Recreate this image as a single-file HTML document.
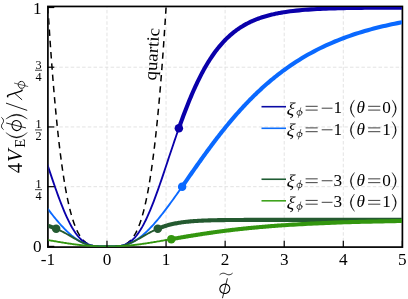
<!DOCTYPE html>
<html><head><meta charset="utf-8"><style>
html,body{margin:0;padding:0;background:#fff;}
svg{display:block;will-change:transform}
text{font-family:"Liberation Serif",serif;fill:#000}
.g{stroke:#dcdcdc;stroke-width:0.8;stroke-dasharray:3.5 2.2}
.t{stroke:#000;stroke-width:1.2}
.r{stroke:#000;stroke-width:0.75}
.tl{font-size:17.2px}
.fr{font-size:12.2px}
.lg{font-size:17.2px}
.yl{font-size:20.5px}
.it{font-style:italic}
</style></head><body>
<svg width="408" height="299" viewBox="0 0 408 299">
<rect width="408" height="299" fill="#fff"/>
<line x1="106.98" y1="247.1" x2="106.98" y2="6.45" class="g"/><line x1="166.06" y1="247.1" x2="166.06" y2="6.45" class="g"/><line x1="225.14" y1="247.1" x2="225.14" y2="6.45" class="g"/><line x1="284.22" y1="247.1" x2="284.22" y2="6.45" class="g"/><line x1="343.30" y1="247.1" x2="343.30" y2="6.45" class="g"/><line x1="47.9" y1="186.68" x2="402.40" y2="186.68" class="g"/><line x1="47.9" y1="126.95" x2="402.40" y2="126.95" class="g"/><line x1="47.9" y1="67.22" x2="402.40" y2="67.22" class="g"/>
<rect x="47.9" y="6.45" width="354.50" height="240.65" fill="none" stroke="#000" stroke-width="1.7"/>
<clipPath id="c"><rect x="48.4" y="7.05" width="353.5" height="239.65"/></clipPath>
<g clip-path="url(#c)">
<path d="M47.90,7.50 L48.20,12.24 L48.49,16.91 L48.79,21.51 L49.08,26.05 L49.38,30.51 L49.67,34.90 L49.97,39.23 L50.26,43.49 L50.56,47.69 L50.85,51.81 L51.15,55.88 L51.44,59.88 L51.74,63.82 L52.04,67.69 L52.33,71.50 L52.63,75.25 L52.92,78.94 L53.22,82.57 L53.51,86.15 L53.81,89.66 L54.10,93.11 L54.40,96.51 L54.69,99.85 L54.99,103.13 L55.28,106.36 L55.58,109.53 L55.88,112.65 L56.17,115.72 L56.47,118.73 L56.76,121.69 L57.06,124.60 L57.35,127.46 L57.65,130.27 L57.94,133.02 L58.24,135.73 L58.53,138.39 L58.83,141.00 L59.13,143.56 L59.42,146.08 L59.72,148.55 L60.01,150.97 L60.31,153.35 L60.60,155.68 L60.90,157.97 L61.19,160.22 L61.49,162.42 L61.78,164.58 L62.08,166.70 L62.37,168.77 L62.67,170.81 L62.97,172.81 L63.26,174.76 L63.56,176.68 L63.85,178.56 L64.15,180.40 L64.44,182.20 L64.74,183.96 L65.03,185.69 L65.33,187.38 L65.62,189.04 L65.92,190.66 L66.21,192.25 L66.51,193.80 L66.81,195.32 L67.10,196.81 L67.40,198.26 L67.69,199.68 L67.99,201.07 L68.28,202.43 L68.58,203.75 L68.87,205.05 L69.17,206.32 L69.46,207.56 L69.76,208.77 L70.06,209.95 L70.35,211.10 L70.65,212.22 L70.94,213.32 L71.24,214.39 L71.53,215.44 L71.83,216.46 L72.12,217.45 L72.42,218.42 L72.71,219.36 L73.01,220.29 L73.30,221.18 L73.60,222.05 L73.90,222.91 L74.19,223.73 L74.49,224.54 L74.78,225.32 L75.08,226.09 L75.37,226.83 L75.67,227.55 L75.96,228.25 L76.26,228.93 L76.55,229.59 L76.85,230.24 L77.14,230.86 L77.44,231.47 L77.74,232.06 L78.03,232.63 L78.33,233.18 L78.62,233.72 L78.92,234.24 L79.21,234.74 L79.51,235.23 L79.80,235.70 L80.10,236.16 L80.39,236.60 L80.69,237.03 L80.98,237.45 L81.28,237.85 L81.58,238.23 L81.87,238.61 L82.17,238.97 L82.46,239.31 L82.76,239.65 L83.05,239.97 L83.35,240.28 L83.64,240.58 L83.94,240.87 L84.23,241.15 L84.53,241.42 L84.82,241.68 L85.12,241.92 L85.42,242.16 L85.71,242.39 L86.01,242.61 L86.30,242.82 L86.60,243.02 L86.89,243.21 L87.19,243.39 L87.48,243.57 L87.78,243.73 L88.07,243.89 L88.37,244.05 L88.67,244.19 L88.96,244.33 L89.26,244.46 L89.55,244.59 L89.85,244.71 L90.14,244.82 L90.44,244.93 L90.73,245.03 L91.03,245.13 L91.32,245.22 L91.62,245.31 L91.91,245.39 L92.21,245.47 L92.51,245.54 L92.80,245.61 L93.10,245.67 L93.39,245.73 L93.69,245.79 L93.98,245.84 L94.28,245.89 L94.57,245.94 L94.87,245.98 L95.16,246.02 L95.46,246.05 L95.75,246.09 L96.05,246.12 L96.35,246.15 L96.64,246.18 L96.94,246.20 L97.23,246.22 L97.53,246.24 L97.82,246.26 L98.12,246.28 L98.41,246.29 L98.71,246.31 L99.00,246.32 L99.30,246.33 L99.59,246.34 L99.89,246.35 L100.19,246.36 L100.48,246.37 L100.78,246.37 L101.07,246.38 L101.37,246.38 L101.66,246.38 L101.96,246.39 L102.25,246.39 L102.55,246.39 L102.84,246.39 L103.14,246.40 L103.44,246.40 L103.73,246.40 L104.03,246.40 L104.32,246.40 L104.62,246.40 L104.91,246.40 L105.21,246.40 L105.50,246.40 L105.80,246.40 L106.09,246.40 L106.39,246.40 L106.68,246.40 L106.98,246.40 L107.28,246.40 L107.57,246.40 L107.87,246.40 L108.16,246.40 L108.46,246.40 L108.75,246.40 L109.05,246.40 L109.34,246.40 L109.64,246.40 L109.93,246.40 L110.23,246.40 L110.52,246.40 L110.82,246.40 L111.12,246.39 L111.41,246.39 L111.71,246.39 L112.00,246.39 L112.30,246.38 L112.59,246.38 L112.89,246.38 L113.18,246.37 L113.48,246.37 L113.77,246.36 L114.07,246.35 L114.37,246.34 L114.66,246.33 L114.96,246.32 L115.25,246.31 L115.55,246.29 L115.84,246.28 L116.14,246.26 L116.43,246.24 L116.73,246.22 L117.02,246.20 L117.32,246.18 L117.61,246.15 L117.91,246.12 L118.21,246.09 L118.50,246.05 L118.80,246.02 L119.09,245.98 L119.39,245.94 L119.68,245.89 L119.98,245.84 L120.27,245.79 L120.57,245.73 L120.86,245.67 L121.16,245.61 L121.45,245.54 L121.75,245.47 L122.05,245.39 L122.34,245.31 L122.64,245.22 L122.93,245.13 L123.23,245.03 L123.52,244.93 L123.82,244.82 L124.11,244.71 L124.41,244.59 L124.70,244.46 L125.00,244.33 L125.29,244.19 L125.59,244.05 L125.89,243.89 L126.18,243.73 L126.48,243.57 L126.77,243.39 L127.07,243.21 L127.36,243.02 L127.66,242.82 L127.95,242.61 L128.25,242.39 L128.54,242.16 L128.84,241.92 L129.13,241.68 L129.43,241.42 L129.73,241.15 L130.02,240.87 L130.32,240.58 L130.61,240.28 L130.91,239.97 L131.20,239.65 L131.50,239.31 L131.79,238.97 L132.09,238.61 L132.38,238.23 L132.68,237.85 L132.98,237.45 L133.27,237.03 L133.57,236.60 L133.86,236.16 L134.16,235.70 L134.45,235.23 L134.75,234.74 L135.04,234.24 L135.34,233.72 L135.63,233.18 L135.93,232.63 L136.22,232.06 L136.52,231.47 L136.82,230.86 L137.11,230.24 L137.41,229.59 L137.70,228.93 L138.00,228.25 L138.29,227.55 L138.59,226.83 L138.88,226.09 L139.18,225.32 L139.47,224.54 L139.77,223.73 L140.06,222.91 L140.36,222.05 L140.66,221.18 L140.95,220.29 L141.25,219.36 L141.54,218.42 L141.84,217.45 L142.13,216.46 L142.43,215.44 L142.72,214.39 L143.02,213.32 L143.31,212.22 L143.61,211.10 L143.91,209.95 L144.20,208.77 L144.50,207.56 L144.79,206.32 L145.09,205.05 L145.38,203.75 L145.68,202.43 L145.97,201.07 L146.27,199.68 L146.56,198.26 L146.86,196.81 L147.15,195.32 L147.45,193.80 L147.75,192.25 L148.04,190.66 L148.34,189.04 L148.63,187.38 L148.93,185.69 L149.22,183.96 L149.52,182.20 L149.81,180.40 L150.11,178.56 L150.40,176.68 L150.70,174.76 L150.99,172.81 L151.29,170.81 L151.59,168.77 L151.88,166.70 L152.18,164.58 L152.47,162.42 L152.77,160.22 L153.06,157.97 L153.36,155.68 L153.65,153.35 L153.95,150.97 L154.24,148.55 L154.54,146.08 L154.83,143.56 L155.13,141.00 L155.43,138.39 L155.72,135.73 L156.02,133.02 L156.31,130.27 L156.61,127.46 L156.90,124.60 L157.20,121.69 L157.49,118.73 L157.79,115.72 L158.08,112.65 L158.38,109.53 L158.67,106.36 L158.97,103.13 L159.27,99.85 L159.56,96.51 L159.86,93.11 L160.15,89.66 L160.45,86.15 L160.74,82.57 L161.04,78.94 L161.33,75.25 L161.63,71.50 L161.92,67.69 L162.22,63.82 L162.52,59.88 L162.81,55.88 L163.11,51.81 L163.40,47.69 L163.70,43.49 L163.99,39.23 L164.29,34.90 L164.58,30.51 L164.88,26.05 L165.17,21.51 L165.47,16.91 L165.76,12.24 L166.06,7.50" stroke="#000" stroke-width="1.5" fill="none" stroke-dasharray="6.4 4.89" stroke-dashoffset="0.5"/>
<path d="M46.72,162.48 L47.82,165.79 L48.92,169.09 L50.02,172.37 L51.12,175.64 L52.22,178.89 L53.33,182.11 L54.43,185.29 L55.53,188.44 L56.63,191.54 L57.73,194.59 L58.83,197.59 L59.93,200.52 L61.03,203.39 L62.14,206.19 L63.24,208.91 L64.34,211.55 L65.44,214.11 L66.54,216.57 L67.64,218.94 L68.74,221.22 L69.84,223.39 L70.95,225.47 L72.05,227.43 L73.15,229.29 L74.25,231.04 L75.35,232.69 L76.45,234.22 L77.55,235.65 L78.65,236.96 L79.76,238.18 L80.86,239.28 L81.96,240.29 L83.06,241.20 L84.16,242.01 L85.26,242.74 L86.36,243.37 L87.46,243.93 L88.56,244.41 L89.67,244.83 L90.77,245.17 L91.87,245.46 L92.97,245.70 L94.07,245.89 L95.17,246.04 L96.27,246.15 L97.37,246.24 L98.48,246.30 L99.58,246.34 L100.68,246.37 L101.78,246.39 L102.88,246.39 L103.98,246.40 L105.08,246.40 L106.18,246.40 L107.29,246.40 L108.39,246.40 L109.49,246.40 L110.59,246.40 L111.69,246.39 L112.79,246.38 L113.89,246.36 L114.99,246.32 L116.10,246.27 L117.20,246.19 L118.30,246.09 L119.40,245.96 L120.50,245.79 L121.60,245.57 L122.70,245.31 L123.80,244.99 L124.91,244.60 L126.01,244.15 L127.11,243.63 L128.21,243.03 L129.31,242.35 L130.41,241.57 L131.51,240.71 L132.61,239.74 L133.72,238.68 L134.82,237.52 L135.92,236.25 L137.02,234.87 L138.12,233.38 L139.22,231.79 L140.32,230.08 L141.42,228.27 L142.53,226.35 L143.63,224.33 L144.73,222.20 L145.83,219.97 L146.93,217.64 L148.03,215.21 L149.13,212.70 L150.23,210.10 L151.33,207.41 L152.44,204.65 L153.54,201.81 L154.64,198.90 L155.74,195.93 L156.84,192.90 L157.94,189.83 L159.04,186.70 L160.14,183.53 L161.25,180.33 L162.35,177.09 L163.45,173.83 L164.55,170.55 L165.65,167.25 L166.75,163.95 L167.85,160.64 L168.95,157.33 L170.06,154.02 L171.16,150.72 L172.26,147.44 L173.36,144.17 L174.46,140.92 L175.56,137.70 L176.66,134.50 L177.76,131.33 L178.87,128.20" stroke="#0a00aa" stroke-width="1.85" fill="none"/>
<path d="M46.72,207.43 L47.85,208.94 L48.98,210.42 L50.10,211.90 L51.23,213.35 L52.36,214.79 L53.49,216.21 L54.62,217.61 L55.75,218.98 L56.87,220.34 L58.00,221.67 L59.13,222.98 L60.26,224.26 L61.39,225.51 L62.52,226.74 L63.64,227.94 L64.77,229.11 L65.90,230.24 L67.03,231.34 L68.16,232.41 L69.29,233.45 L70.42,234.45 L71.54,235.41 L72.67,236.33 L73.80,237.21 L74.93,238.06 L76.06,238.86 L77.19,239.62 L78.31,240.34 L79.44,241.01 L80.57,241.65 L81.70,242.24 L82.83,242.78 L83.96,243.28 L85.09,243.74 L86.21,244.16 L87.34,244.53 L88.47,244.87 L89.60,245.16 L90.73,245.42 L91.86,245.63 L92.98,245.82 L94.11,245.97 L95.24,246.09 L96.37,246.19 L97.50,246.26 L98.63,246.31 L99.75,246.35 L100.88,246.37 L102.01,246.39 L103.14,246.40 L104.27,246.40 L105.40,246.40 L106.53,246.40 L107.65,246.40 L108.78,246.40 L109.91,246.40 L111.04,246.39 L112.17,246.39 L113.30,246.37 L114.42,246.34 L115.55,246.30 L116.68,246.25 L117.81,246.17 L118.94,246.07 L120.07,245.94 L121.20,245.78 L122.32,245.59 L123.45,245.37 L124.58,245.11 L125.71,244.81 L126.84,244.46 L127.97,244.08 L129.09,243.66 L130.22,243.19 L131.35,242.68 L132.48,242.13 L133.61,241.53 L134.74,240.89 L135.86,240.20 L136.99,239.47 L138.12,238.71 L139.25,237.89 L140.38,237.04 L141.51,236.15 L142.64,235.22 L143.76,234.25 L144.89,233.25 L146.02,232.21 L147.15,231.13 L148.28,230.02 L149.41,228.88 L150.53,227.71 L151.66,226.50 L152.79,225.27 L153.92,224.01 L155.05,222.73 L156.18,221.41 L157.31,220.08 L158.43,218.72 L159.56,217.34 L160.69,215.93 L161.82,214.51 L162.95,213.07 L164.08,211.61 L165.20,210.14 L166.33,208.65 L167.46,207.14 L168.59,205.62 L169.72,204.09 L170.85,202.55 L171.97,201.00 L173.10,199.43 L174.23,197.86 L175.36,196.28 L176.49,194.69 L177.62,193.10 L178.75,191.50 L179.87,189.90 L181.00,188.29 L182.13,186.68" stroke="#0a69ff" stroke-width="1.85" fill="none"/>
<path d="M56.19,228.74 L57.04,229.10 L57.88,229.48 L58.73,229.86 L59.58,230.25 L60.42,230.66 L61.27,231.07 L62.12,231.50 L62.96,231.93 L63.81,232.37 L64.65,232.82 L65.50,233.28 L66.35,233.74 L67.19,234.22 L68.04,234.69 L68.89,235.17 L69.73,235.66 L70.58,236.15 L71.43,236.63 L72.27,237.12 L73.12,237.61 L73.97,238.10 L74.81,238.58 L75.66,239.06 L76.51,239.54 L77.35,240.00 L78.20,240.46 L79.05,240.91 L79.89,241.34 L80.74,241.76 L81.58,242.17 L82.43,242.56 L83.28,242.93 L84.12,243.29 L84.97,243.63 L85.82,243.95 L86.66,244.24 L87.51,244.52 L88.36,244.77 L89.20,245.01 L90.05,245.22 L90.90,245.41 L91.74,245.58 L92.59,245.73 L93.44,245.86 L94.28,245.97 L95.13,246.07 L95.98,246.15 L96.82,246.21 L97.67,246.27 L98.51,246.31 L99.36,246.34 L100.21,246.36 L101.05,246.38 L101.90,246.39 L102.75,246.39 L103.59,246.40 L104.44,246.40 L105.29,246.40 L106.13,246.40 L106.98,246.40 L107.83,246.40 L108.67,246.40 L109.52,246.40 L110.37,246.40 L111.21,246.39 L112.06,246.39 L112.91,246.38 L113.75,246.36 L114.60,246.34 L115.45,246.31 L116.29,246.27 L117.14,246.21 L117.98,246.15 L118.83,246.07 L119.68,245.97 L120.52,245.86 L121.37,245.73 L122.22,245.58 L123.06,245.41 L123.91,245.22 L124.76,245.01 L125.60,244.77 L126.45,244.52 L127.30,244.24 L128.14,243.95 L128.99,243.63 L129.84,243.29 L130.68,242.93 L131.53,242.56 L132.38,242.17 L133.22,241.76 L134.07,241.34 L134.91,240.91 L135.76,240.46 L136.61,240.00 L137.45,239.54 L138.30,239.06 L139.15,238.58 L139.99,238.10 L140.84,237.61 L141.69,237.12 L142.53,236.63 L143.38,236.15 L144.23,235.66 L145.07,235.17 L145.92,234.69 L146.77,234.22 L147.61,233.74 L148.46,233.28 L149.31,232.82 L150.15,232.37 L151.00,231.93 L151.84,231.50 L152.69,231.07 L153.54,230.66 L154.38,230.25 L155.23,229.86 L156.08,229.48 L156.92,229.10 L157.77,228.74" stroke="#245a30" stroke-width="1.85" fill="none"/>
<path d="M46.72,239.84 L47.76,240.02 L48.80,240.20 L49.83,240.38 L50.87,240.56 L51.91,240.74 L52.95,240.92 L53.99,241.10 L55.03,241.28 L56.06,241.45 L57.10,241.63 L58.14,241.80 L59.18,241.98 L60.22,242.15 L61.26,242.32 L62.30,242.49 L63.33,242.65 L64.37,242.82 L65.41,242.98 L66.45,243.15 L67.49,243.31 L68.53,243.46 L69.57,243.62 L70.60,243.77 L71.64,243.92 L72.68,244.07 L73.72,244.21 L74.76,244.36 L75.80,244.49 L76.83,244.63 L77.87,244.76 L78.91,244.88 L79.95,245.01 L80.99,245.13 L82.03,245.24 L83.07,245.35 L84.10,245.45 L85.14,245.55 L86.18,245.65 L87.22,245.74 L88.26,245.82 L89.30,245.90 L90.34,245.98 L91.37,246.04 L92.41,246.10 L93.45,246.16 L94.49,246.21 L95.53,246.25 L96.57,246.29 L97.60,246.32 L98.64,246.34 L99.68,246.36 L100.72,246.38 L101.76,246.39 L102.80,246.39 L103.84,246.40 L104.87,246.40 L105.91,246.40 L106.95,246.40 L107.99,246.40 L109.03,246.40 L110.07,246.40 L111.11,246.40 L112.14,246.39 L113.18,246.38 L114.22,246.37 L115.26,246.35 L116.30,246.32 L117.34,246.29 L118.37,246.25 L119.41,246.21 L120.45,246.16 L121.49,246.11 L122.53,246.05 L123.57,245.98 L124.61,245.91 L125.64,245.83 L126.68,245.74 L127.72,245.66 L128.76,245.56 L129.80,245.46 L130.84,245.36 L131.87,245.25 L132.91,245.13 L133.95,245.01 L134.99,244.89 L136.03,244.77 L137.07,244.63 L138.11,244.50 L139.14,244.36 L140.18,244.22 L141.22,244.08 L142.26,243.93 L143.30,243.78 L144.34,243.63 L145.38,243.47 L146.41,243.32 L147.45,243.16 L148.49,242.99 L149.53,242.83 L150.57,242.66 L151.61,242.50 L152.64,242.33 L153.68,242.16 L154.72,241.98 L155.76,241.81 L156.80,241.64 L157.84,241.46 L158.88,241.29 L159.91,241.11 L160.95,240.93 L161.99,240.75 L163.03,240.57 L164.07,240.39 L165.11,240.21 L166.15,240.03 L167.18,239.85 L168.22,239.67 L169.26,239.49 L170.30,239.31 L171.34,239.13" stroke="#33960f" stroke-width="1.85" fill="none"/>
<path d="M178.87,128.20 L179.74,125.72 L180.62,123.28 L181.50,120.85 L182.38,118.45 L183.26,116.08 L184.13,113.74 L185.01,111.43 L185.89,109.14 L186.77,106.89 L187.65,104.67 L188.52,102.48 L189.40,100.32 L190.28,98.20 L191.16,96.11 L192.03,94.05 L192.91,92.03 L193.79,90.03 L194.67,88.08 L195.55,86.16 L196.42,84.27 L197.30,82.41 L198.18,80.60 L199.06,78.81 L199.94,77.06 L200.81,75.34 L201.69,73.66 L202.57,72.01 L203.45,70.39 L204.33,68.81 L205.20,67.26 L206.08,65.74 L206.96,64.26 L207.84,62.80 L208.72,61.38 L209.59,59.99 L210.47,58.63 L211.35,57.30 L212.23,56.00 L213.11,54.73 L213.98,53.49 L214.86,52.28 L215.74,51.09 L216.62,49.94 L217.50,48.81 L218.37,47.71 L219.25,46.63 L220.13,45.58 L221.01,44.56 L221.89,43.56 L222.76,42.58 L223.64,41.63 L224.52,40.71 L225.40,39.80 L226.28,38.92 L227.15,38.06 L228.03,37.23 L228.91,36.41 L229.79,35.62 L230.66,34.84 L231.54,34.09 L232.42,33.35 L233.30,32.64 L234.18,31.94 L235.05,31.26 L235.93,30.60 L236.81,29.96 L237.69,29.33 L238.57,28.72 L239.44,28.12 L240.32,27.55 L241.20,26.98 L242.08,26.44 L242.96,25.90 L243.83,25.39 L244.71,24.88 L245.59,24.39 L246.47,23.91 L247.35,23.45 L248.22,23.00 L249.10,22.56 L249.98,22.13 L250.86,21.72 L251.74,21.31 L252.61,20.92 L253.49,20.54 L254.37,20.17 L255.25,19.80 L256.13,19.45 L257.00,19.11 L257.88,18.78 L258.76,18.46 L259.64,18.14 L260.52,17.84 L261.39,17.54 L262.27,17.25 L263.15,16.97 L264.03,16.70 L264.91,16.44 L265.78,16.18 L266.66,15.93 L267.54,15.69 L268.42,15.45 L269.29,15.22 L270.17,15.00 L271.05,14.79 L271.93,14.58 L272.81,14.37 L273.68,14.17 L274.56,13.98 L275.44,13.79 L276.32,13.61 L277.20,13.43 L278.07,13.26 L278.95,13.10 L279.83,12.93 L280.71,12.78 L281.59,12.62 L282.46,12.48 L283.34,12.33 L284.22,12.19 L287.20,11.74 L290.19,11.34 L293.17,10.97 L296.15,10.64 L299.14,10.34 L302.12,10.07 L305.10,9.82 L308.09,9.60 L311.07,9.40 L314.06,9.22 L317.04,9.05 L320.02,8.91 L323.01,8.77 L325.99,8.65 L328.97,8.54 L331.96,8.44 L334.94,8.35 L337.92,8.27 L340.91,8.19 L343.89,8.13 L346.87,8.07 L349.86,8.01 L352.84,7.96 L355.82,7.92 L358.81,7.88 L361.79,7.84 L364.78,7.81 L367.76,7.78 L370.74,7.75 L373.73,7.73 L376.71,7.71 L379.69,7.69 L382.68,7.67 L385.66,7.65 L388.64,7.64 L391.63,7.62 L394.61,7.61 L397.59,7.60 L400.58,7.59 L403.56,7.58" stroke="#0a00aa" stroke-width="4.1" fill="none"/>
<circle cx="178.87" cy="128.20" r="4.25" fill="#0a00aa"/>
<path d="M182.13,186.68 L182.98,185.46 L183.83,184.24 L184.68,183.02 L185.53,181.80 L186.38,180.58 L187.24,179.36 L188.09,178.14 L188.94,176.92 L189.79,175.70 L190.64,174.48 L191.49,173.26 L192.34,172.05 L193.19,170.83 L194.04,169.62 L194.89,168.41 L195.74,167.20 L196.59,165.99 L197.44,164.78 L198.29,163.58 L199.15,162.38 L200.00,161.19 L200.85,159.99 L201.70,158.80 L202.55,157.62 L203.40,156.43 L204.25,155.26 L205.10,154.08 L205.95,152.91 L206.80,151.74 L207.65,150.58 L208.50,149.42 L209.35,148.27 L210.21,147.12 L211.06,145.97 L211.91,144.83 L212.76,143.70 L213.61,142.57 L214.46,141.44 L215.31,140.32 L216.16,139.21 L217.01,138.10 L217.86,137.00 L218.71,135.90 L219.56,134.80 L220.41,133.72 L221.26,132.64 L222.12,131.56 L222.97,130.49 L223.82,129.43 L224.67,128.37 L225.52,127.32 L226.37,126.27 L227.22,125.23 L228.07,124.20 L228.92,123.17 L229.77,122.15 L230.62,121.14 L231.47,120.13 L232.32,119.12 L233.18,118.13 L234.03,117.14 L234.88,116.16 L235.73,115.18 L236.58,114.21 L237.43,113.24 L238.28,112.29 L239.13,111.33 L239.98,110.39 L240.83,109.45 L241.68,108.52 L242.53,107.59 L243.38,106.67 L244.23,105.76 L245.09,104.86 L245.94,103.96 L246.79,103.06 L247.64,102.18 L248.49,101.30 L249.34,100.42 L250.19,99.56 L251.04,98.70 L251.89,97.84 L252.74,96.99 L253.59,96.15 L254.44,95.32 L255.29,94.49 L256.15,93.67 L257.00,92.85 L257.85,92.04 L258.70,91.24 L259.55,90.44 L260.40,89.65 L261.25,88.87 L262.10,88.09 L262.95,87.32 L263.80,86.55 L264.65,85.79 L265.50,85.04 L266.35,84.29 L267.21,83.55 L268.06,82.82 L268.91,82.09 L269.76,81.37 L270.61,80.65 L271.46,79.94 L272.31,79.23 L273.16,78.54 L274.01,77.84 L274.86,77.16 L275.71,76.48 L276.56,75.80 L277.41,75.13 L278.26,74.47 L279.12,73.81 L279.97,73.16 L280.82,72.51 L281.67,71.87 L282.52,71.23 L283.37,70.60 L284.22,69.98 L287.20,67.83 L290.19,65.75 L293.17,63.74 L296.15,61.79 L299.14,59.90 L302.12,58.07 L305.10,56.30 L308.09,54.59 L311.07,52.93 L314.06,51.33 L317.04,49.78 L320.02,48.28 L323.01,46.83 L325.99,45.43 L328.97,44.07 L331.96,42.77 L334.94,41.50 L337.92,40.28 L340.91,39.11 L343.89,37.97 L346.87,36.87 L349.86,35.81 L352.84,34.79 L355.82,33.80 L358.81,32.84 L361.79,31.92 L364.78,31.04 L367.76,30.18 L370.74,29.35 L373.73,28.56 L376.71,27.79 L379.69,27.05 L382.68,26.33 L385.66,25.64 L388.64,24.98 L391.63,24.34 L394.61,23.72 L397.59,23.12 L400.58,22.55 L403.56,22.00" stroke="#0a69ff" stroke-width="4.1" fill="none"/>
<circle cx="182.13" cy="186.68" r="4.25" fill="#0a69ff"/>
<path d="M157.77,228.74 L158.82,228.30 L159.88,227.88 L160.93,227.48 L161.99,227.09 L163.04,226.72 L164.09,226.36 L165.15,226.02 L166.20,225.69 L167.25,225.38 L168.31,225.09 L169.36,224.81 L170.42,224.54 L171.47,224.28 L172.52,224.04 L173.58,223.81 L174.63,223.59 L175.68,223.38 L176.74,223.18 L177.79,223.00 L178.85,222.82 L179.90,222.65 L180.95,222.49 L182.01,222.34 L183.06,222.20 L184.11,222.06 L185.17,221.94 L186.22,221.82 L187.28,221.70 L188.33,221.60 L189.38,221.50 L190.44,221.40 L191.49,221.31 L192.54,221.23 L193.60,221.15 L194.65,221.07 L195.71,221.00 L196.76,220.93 L197.81,220.87 L198.87,220.81 L199.92,220.75 L200.97,220.70 L202.03,220.65 L203.08,220.60 L204.14,220.56 L205.19,220.52 L206.24,220.48 L207.30,220.44 L208.35,220.41 L209.40,220.37 L210.46,220.34 L211.51,220.31 L212.57,220.29 L213.62,220.26 L214.67,220.24 L215.73,220.21 L216.78,220.19 L217.83,220.17 L218.89,220.15 L219.94,220.14 L221.00,220.12 L222.05,220.10 L223.10,220.09 L224.16,220.08 L225.21,220.06 L226.26,220.05 L227.32,220.04 L228.37,220.03 L229.43,220.02 L230.48,220.01 L231.53,220.00 L232.59,219.99 L233.64,219.98 L234.69,219.97 L235.75,219.97 L236.80,219.96 L237.86,219.95 L238.91,219.95 L239.96,219.94 L241.02,219.94 L242.07,219.93 L243.12,219.93 L244.18,219.92 L245.23,219.92 L246.29,219.92 L247.34,219.91 L248.39,219.91 L249.45,219.91 L250.50,219.90 L251.55,219.90 L252.61,219.90 L253.66,219.89 L254.72,219.89 L255.77,219.89 L256.82,219.89 L257.88,219.89 L258.93,219.88 L259.98,219.88 L261.04,219.88 L262.09,219.88 L263.15,219.88 L264.20,219.88 L265.25,219.88 L266.31,219.87 L267.36,219.87 L268.41,219.87 L269.47,219.87 L270.52,219.87 L271.58,219.87 L272.63,219.87 L273.68,219.87 L274.74,219.87 L275.79,219.87 L276.84,219.87 L277.90,219.86 L278.95,219.86 L280.01,219.86 L281.06,219.86 L282.11,219.86 L283.17,219.86 L284.22,219.86 L287.20,219.86 L290.19,219.86 L293.17,219.86 L296.15,219.86 L299.14,219.86 L302.12,219.86 L305.10,219.86 L308.09,219.86 L311.07,219.86 L314.06,219.86 L317.04,219.86 L320.02,219.86 L323.01,219.86 L325.99,219.86 L328.97,219.86 L331.96,219.86 L334.94,219.86 L337.92,219.86 L340.91,219.86 L343.89,219.86 L346.87,219.86 L349.86,219.86 L352.84,219.86 L355.82,219.86 L358.81,219.86 L361.79,219.86 L364.78,219.86 L367.76,219.86 L370.74,219.86 L373.73,219.86 L376.71,219.86 L379.69,219.86 L382.68,219.86 L385.66,219.86 L388.64,219.86 L391.63,219.86 L394.61,219.86 L397.59,219.86 L400.58,219.86 L403.56,219.86" stroke="#245a30" stroke-width="4.1" fill="none"/>
<circle cx="157.77" cy="228.74" r="4.25" fill="#245a30"/>
<path d="M46.72,225.39 L47.19,225.53 L47.67,225.67 L48.14,225.81 L48.61,225.96 L49.09,226.11 L49.56,226.26 L50.03,226.42 L50.51,226.58 L50.98,226.74 L51.45,226.90 L51.93,227.07 L52.40,227.24 L52.87,227.42 L53.35,227.60 L53.82,227.78 L54.30,227.97 L54.77,228.15 L55.24,228.35 L55.72,228.54 L56.19,228.74" stroke="#245a30" stroke-width="4.1" fill="none"/>
<circle cx="56.19" cy="228.74" r="4.25" fill="#245a30"/>
<path d="M171.34,239.13 L172.28,238.97 L173.22,238.80 L174.16,238.64 L175.10,238.48 L176.04,238.31 L176.98,238.15 L177.92,237.99 L178.86,237.83 L179.80,237.66 L180.74,237.50 L181.69,237.34 L182.63,237.18 L183.57,237.02 L184.51,236.87 L185.45,236.71 L186.39,236.55 L187.33,236.39 L188.27,236.24 L189.21,236.08 L190.15,235.93 L191.09,235.77 L192.03,235.62 L192.97,235.47 L193.91,235.31 L194.85,235.16 L195.80,235.01 L196.74,234.86 L197.68,234.71 L198.62,234.57 L199.56,234.42 L200.50,234.27 L201.44,234.13 L202.38,233.99 L203.32,233.84 L204.26,233.70 L205.20,233.56 L206.14,233.42 L207.08,233.28 L208.02,233.14 L208.97,233.00 L209.91,232.87 L210.85,232.73 L211.79,232.60 L212.73,232.47 L213.67,232.33 L214.61,232.20 L215.55,232.07 L216.49,231.94 L217.43,231.81 L218.37,231.69 L219.31,231.56 L220.25,231.44 L221.19,231.31 L222.13,231.19 L223.08,231.07 L224.02,230.95 L224.96,230.83 L225.90,230.71 L226.84,230.59 L227.78,230.47 L228.72,230.36 L229.66,230.24 L230.60,230.13 L231.54,230.01 L232.48,229.90 L233.42,229.79 L234.36,229.68 L235.30,229.57 L236.25,229.47 L237.19,229.36 L238.13,229.25 L239.07,229.15 L240.01,229.04 L240.95,228.94 L241.89,228.84 L242.83,228.74 L243.77,228.64 L244.71,228.54 L245.65,228.44 L246.59,228.34 L247.53,228.25 L248.47,228.15 L249.41,228.06 L250.36,227.97 L251.30,227.87 L252.24,227.78 L253.18,227.69 L254.12,227.60 L255.06,227.51 L256.00,227.43 L256.94,227.34 L257.88,227.25 L258.82,227.17 L259.76,227.08 L260.70,227.00 L261.64,226.92 L262.58,226.84 L263.52,226.76 L264.47,226.68 L265.41,226.60 L266.35,226.52 L267.29,226.44 L268.23,226.36 L269.17,226.29 L270.11,226.21 L271.05,226.14 L271.99,226.06 L272.93,225.99 L273.87,225.92 L274.81,225.85 L275.75,225.78 L276.69,225.71 L277.64,225.64 L278.58,225.57 L279.52,225.50 L280.46,225.44 L281.40,225.37 L282.34,225.31 L283.28,225.24 L284.22,225.18 L287.20,224.98 L290.19,224.79 L293.17,224.61 L296.15,224.43 L299.14,224.26 L302.12,224.09 L305.10,223.93 L308.09,223.78 L311.07,223.63 L314.06,223.49 L317.04,223.35 L320.02,223.22 L323.01,223.09 L325.99,222.97 L328.97,222.85 L331.96,222.73 L334.94,222.62 L337.92,222.52 L340.91,222.42 L343.89,222.32 L346.87,222.22 L349.86,222.13 L352.84,222.05 L355.82,221.96 L358.81,221.88 L361.79,221.80 L364.78,221.73 L367.76,221.65 L370.74,221.59 L373.73,221.52 L376.71,221.45 L379.69,221.39 L382.68,221.33 L385.66,221.28 L388.64,221.22 L391.63,221.17 L394.61,221.12 L397.59,221.07 L400.58,221.02 L403.56,220.98" stroke="#33960f" stroke-width="4.1" fill="none"/>
<circle cx="171.34" cy="239.13" r="4.25" fill="#33960f"/>
</g>
<line x1="47.90" y1="247.1" x2="47.90" y2="240.80" class="t"/><line x1="106.98" y1="247.1" x2="106.98" y2="240.80" class="t"/><line x1="166.06" y1="247.1" x2="166.06" y2="240.80" class="t"/><line x1="225.14" y1="247.1" x2="225.14" y2="240.80" class="t"/><line x1="284.22" y1="247.1" x2="284.22" y2="240.80" class="t"/><line x1="343.30" y1="247.1" x2="343.30" y2="240.80" class="t"/><line x1="402.38" y1="247.1" x2="402.38" y2="240.80" class="t"/><line x1="47.9" y1="246.40" x2="54.3" y2="246.40" class="t"/><line x1="47.9" y1="186.68" x2="54.3" y2="186.68" class="t"/><line x1="47.9" y1="126.95" x2="54.3" y2="126.95" class="t"/><line x1="47.9" y1="67.22" x2="54.3" y2="67.22" class="t"/><line x1="47.9" y1="7.50" x2="54.3" y2="7.50" class="t"/>
<text x="106.98" y="265.3" text-anchor="middle" class="tl">0</text><text x="166.06" y="265.3" text-anchor="middle" class="tl">1</text><text x="225.14" y="265.3" text-anchor="middle" class="tl">2</text><text x="284.22" y="265.3" text-anchor="middle" class="tl">3</text><text x="343.30" y="265.3" text-anchor="middle" class="tl">4</text><text x="402.38" y="265.3" text-anchor="middle" class="tl">5</text><text x="50.9" y="265.3" text-anchor="middle" class="tl">1</text><text x="43.5" y="265.3" text-anchor="middle" class="tl">-</text>
<text x="37.4" y="13.8" text-anchor="middle" class="tl">1</text><text x="37.4" y="252.4" text-anchor="middle" class="tl">0</text><text x="38.5" y="68.62" text-anchor="middle" class="fr">3</text><line x1="35" x2="42" y1="70.22" y2="70.22" stroke="#000" stroke-width="0.75"/><text x="38.5" y="80.62" text-anchor="middle" class="fr">4</text><text x="38.5" y="128.35" text-anchor="middle" class="fr">1</text><line x1="35" x2="42" y1="129.95" y2="129.95" stroke="#000" stroke-width="0.75"/><text x="38.5" y="140.35" text-anchor="middle" class="fr">2</text><text x="38.5" y="188.08" text-anchor="middle" class="fr">1</text><line x1="35" x2="42" y1="189.68" y2="189.68" stroke="#000" stroke-width="0.75"/><text x="38.5" y="200.08" text-anchor="middle" class="fr">4</text>
<text transform="translate(156.1,80.8) rotate(-86.3)" class="tl" textLength="52.6" lengthAdjust="spacingAndGlyphs">quartic</text>
<g transform="translate(22,0) rotate(-90)"><text x="-168.20" y="0" text-anchor="middle" class="yl">4</text><text x="-155.80" y="0" text-anchor="middle" class="yl it">V</text><text x="-143.20" y="2.7" text-anchor="middle" style="font-size:14.5px">E</text><path d="M-132.60,-16.20 Q-143.52,-5.40 -132.60,5.40 Q-141.36,-5.40 -132.60,-16.20Z" fill="#000" stroke="#000" stroke-width="0.3"/><g fill="none" stroke="#000" stroke-width="0.86" stroke-linecap="round"><ellipse cx="-125.60" cy="-5.40" rx="5.05" ry="4.62" transform="rotate(-20 -125.60 -5.40)" stroke-width="1.07"/><line x1="-123.07" y1="-15.50" x2="-127.86" y2="3.63"/></g><path d="M-129.40,-18.73 C-127.28,-21.48 -124.92,-20.60 -123.50,-19.50 S-119.72,-17.52 -117.60,-20.27" fill="none" stroke="#000" stroke-width="0.9" stroke-linecap="round"/><path d="M-119.00,-16.20 Q-109.44,-5.40 -119.00,5.40 Q-111.60,-5.40 -119.00,-16.20Z" fill="#000" stroke="#000" stroke-width="0.3"/><line x1="-110.40" y1="5.2" x2="-103.10" y2="-16" stroke="#000" stroke-width="0.9"/><path d="M-96.7,-14.2 C-96,-15 -95.3,-14.3 -94.9,-13 L-91.3,-1.6 C-90.9,-0.4 -90.5,0.3 -89.9,0.1" fill="none" stroke="#000" stroke-width="1.4" stroke-linecap="round"/><line x1="-93.3" y1="-7.4" x2="-99.6" y2="-0.2" stroke="#000" stroke-width="0.9" stroke-linecap="round"/><g fill="none" stroke="#000" stroke-width="0.60" stroke-linecap="round"><ellipse cx="-84.90" cy="-0.50" rx="3.52" ry="3.23" transform="rotate(-20 -84.90 -0.50)" stroke-width="0.75"/><line x1="-83.14" y1="-7.55" x2="-86.48" y2="5.80"/></g></g>
<g fill="none" stroke="#000" stroke-width="0.86" stroke-linecap="round"><ellipse cx="224.80" cy="288.80" rx="5.05" ry="4.62" transform="rotate(-20 224.80 288.80)" stroke-width="1.07"/><line x1="227.33" y1="278.69" x2="222.54" y2="297.83"/></g>
<path d="M219.90,274.60 C222.13,272.47 224.61,273.15 226.10,274.00 S230.07,275.53 232.30,273.40" fill="none" stroke="#000" stroke-width="0.85" stroke-linecap="round"/>
<line x1="261.5" x2="286" y1="106.7" y2="106.7" stroke="#0a0aa4" stroke-width="1.6"/><text transform="translate(289.8,114.50) skewX(-14)" x="0" y="0" text-anchor="middle" style="font-size:18px">ξ</text><g fill="none" stroke="#000" stroke-width="0.55" stroke-linecap="round"><ellipse cx="299.50" cy="112.90" rx="2.54" ry="2.32" transform="rotate(-20 299.50 112.90)" stroke-width="0.69"/><line x1="300.77" y1="107.82" x2="298.37" y2="117.44"/></g><line x1="305.6" x2="317.7" y1="106.30" y2="106.30" class="r"/><line x1="305.6" x2="317.7" y1="110.10" y2="110.10" class="r"/><line x1="321.7" x2="332.5" y1="108.20" y2="108.20" class="r"/><text x="337.9" y="113.00" text-anchor="middle" class="lg">1</text><path d="M354.50,99.88 Q346.12,108.62 354.50,117.38 Q347.87,108.62 354.50,99.88Z" fill="#000" stroke="#000" stroke-width="0.3"/><text x="360.8" y="113.00" text-anchor="middle" class="lg it">θ</text><line x1="368.1" x2="380.3" y1="106.30" y2="106.30" class="r"/><line x1="368.1" x2="380.3" y1="110.10" y2="110.10" class="r"/><text x="386.5" y="113.00" text-anchor="middle" class="lg">0</text><path d="M392.10,99.88 Q400.48,108.62 392.10,117.38 Q398.73,108.62 392.10,99.88Z" fill="#000" stroke="#000" stroke-width="0.3"/><line x1="261.5" x2="286" y1="128.3" y2="128.3" stroke="#0d6efd" stroke-width="1.6"/><text transform="translate(289.8,136.10) skewX(-14)" x="0" y="0" text-anchor="middle" style="font-size:18px">ξ</text><g fill="none" stroke="#000" stroke-width="0.55" stroke-linecap="round"><ellipse cx="299.50" cy="134.50" rx="2.54" ry="2.32" transform="rotate(-20 299.50 134.50)" stroke-width="0.69"/><line x1="300.77" y1="129.42" x2="298.37" y2="139.04"/></g><line x1="305.6" x2="317.7" y1="127.90" y2="127.90" class="r"/><line x1="305.6" x2="317.7" y1="131.70" y2="131.70" class="r"/><line x1="321.7" x2="332.5" y1="129.80" y2="129.80" class="r"/><text x="337.9" y="134.60" text-anchor="middle" class="lg">1</text><path d="M354.50,121.48 Q346.12,130.23 354.50,138.98 Q347.87,130.23 354.50,121.48Z" fill="#000" stroke="#000" stroke-width="0.3"/><text x="360.8" y="134.60" text-anchor="middle" class="lg it">θ</text><line x1="368.1" x2="380.3" y1="127.90" y2="127.90" class="r"/><line x1="368.1" x2="380.3" y1="131.70" y2="131.70" class="r"/><text x="386.5" y="134.60" text-anchor="middle" class="lg">1</text><path d="M392.10,121.48 Q400.48,130.23 392.10,138.98 Q398.73,130.23 392.10,121.48Z" fill="#000" stroke="#000" stroke-width="0.3"/><line x1="261.5" x2="286" y1="179.25" y2="179.25" stroke="#1f5c33" stroke-width="1.6"/><text transform="translate(289.8,187.05) skewX(-14)" x="0" y="0" text-anchor="middle" style="font-size:18px">ξ</text><g fill="none" stroke="#000" stroke-width="0.55" stroke-linecap="round"><ellipse cx="299.50" cy="185.45" rx="2.54" ry="2.32" transform="rotate(-20 299.50 185.45)" stroke-width="0.69"/><line x1="300.77" y1="180.37" x2="298.37" y2="189.99"/></g><line x1="305.6" x2="317.7" y1="178.85" y2="178.85" class="r"/><line x1="305.6" x2="317.7" y1="182.65" y2="182.65" class="r"/><line x1="321.7" x2="332.5" y1="180.75" y2="180.75" class="r"/><text x="337.9" y="185.55" text-anchor="middle" class="lg">3</text><path d="M354.50,172.43 Q346.12,181.18 354.50,189.93 Q347.87,181.18 354.50,172.43Z" fill="#000" stroke="#000" stroke-width="0.3"/><text x="360.8" y="185.55" text-anchor="middle" class="lg it">θ</text><line x1="368.1" x2="380.3" y1="178.85" y2="178.85" class="r"/><line x1="368.1" x2="380.3" y1="182.65" y2="182.65" class="r"/><text x="386.5" y="185.55" text-anchor="middle" class="lg">0</text><path d="M392.10,172.43 Q400.48,181.18 392.10,189.93 Q398.73,181.18 392.10,172.43Z" fill="#000" stroke="#000" stroke-width="0.3"/><line x1="261.5" x2="286" y1="200.8" y2="200.8" stroke="#3fa31d" stroke-width="1.6"/><text transform="translate(289.8,208.60) skewX(-14)" x="0" y="0" text-anchor="middle" style="font-size:18px">ξ</text><g fill="none" stroke="#000" stroke-width="0.55" stroke-linecap="round"><ellipse cx="299.50" cy="207.00" rx="2.54" ry="2.32" transform="rotate(-20 299.50 207.00)" stroke-width="0.69"/><line x1="300.77" y1="201.92" x2="298.37" y2="211.54"/></g><line x1="305.6" x2="317.7" y1="200.40" y2="200.40" class="r"/><line x1="305.6" x2="317.7" y1="204.20" y2="204.20" class="r"/><line x1="321.7" x2="332.5" y1="202.30" y2="202.30" class="r"/><text x="337.9" y="207.10" text-anchor="middle" class="lg">3</text><path d="M354.50,193.98 Q346.12,202.73 354.50,211.48 Q347.87,202.73 354.50,193.98Z" fill="#000" stroke="#000" stroke-width="0.3"/><text x="360.8" y="207.10" text-anchor="middle" class="lg it">θ</text><line x1="368.1" x2="380.3" y1="200.40" y2="200.40" class="r"/><line x1="368.1" x2="380.3" y1="204.20" y2="204.20" class="r"/><text x="386.5" y="207.10" text-anchor="middle" class="lg">1</text><path d="M392.10,193.98 Q400.48,202.73 392.10,211.48 Q398.73,202.73 392.10,193.98Z" fill="#000" stroke="#000" stroke-width="0.3"/>
</svg>
</body></html>
